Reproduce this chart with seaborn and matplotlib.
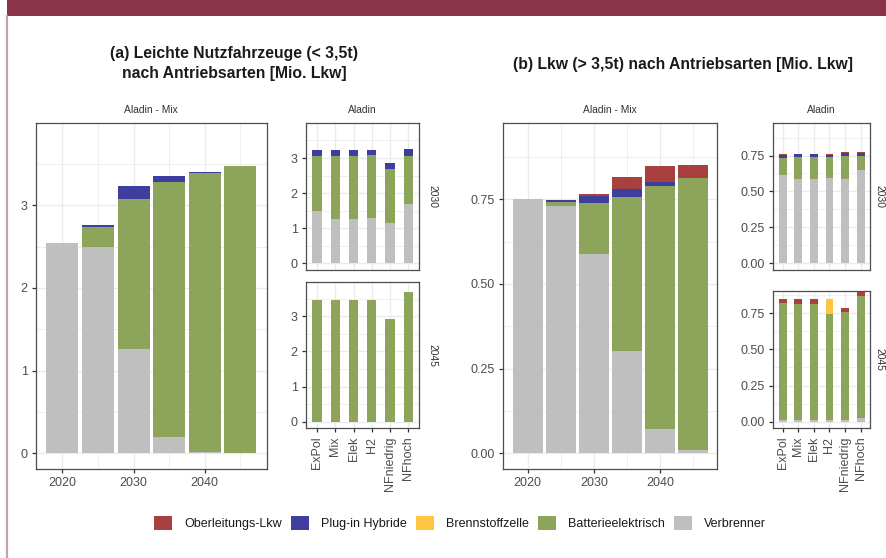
import matplotlib
matplotlib.use("Agg")
import matplotlib.pyplot as plt
from matplotlib.patches import Patch, Rectangle
from matplotlib.lines import Line2D
import numpy as np
import pandas as pd
import seaborn as sns

# ---------------------------------------------------------------- data
years = [2020, 2025, 2030, 2035, 2040, 2045]
scenarios = ["ExPol", "Mix", "Elek", "H2", "NFniedrig", "NFhoch"]
drives = ["Oberleitungs-Lkw", "Plug-in Hybride", "Brennstoffzelle",
          "Batterieelektrisch", "Verbrenner"]

# (a) Leichte Nutzfahrzeuge, Szenario Aladin - Mix, Mio. Fahrzeuge
lnf_verbrenner = [2.54, 2.50, 1.26, 0.20, 0.02, 0.00]
lnf_batterie = [0.00, 0.235, 1.82, 3.08, 3.37, 3.47]
lnf_brennstoff = [0.0, 0.0, 0.0, 0.0, 0.0, 0.0]
lnf_phev = [0.00, 0.025, 0.15, 0.07, 0.01, 0.00]
lnf_oberleitung = [0.0, 0.0, 0.0, 0.0, 0.0, 0.0]

# (a) Szenarienvergleich 2030
lnf30_verbrenner = [1.48, 1.26, 1.26, 1.28, 1.16, 1.70]
lnf30_batterie = [1.59, 1.81, 1.81, 1.81, 1.54, 1.35]
lnf30_brennstoff = [0.0, 0.0, 0.0, 0.0, 0.0, 0.0]
lnf30_phev = [0.17, 0.17, 0.17, 0.15, 0.16, 0.21]
lnf30_oberleitung = [0.0, 0.0, 0.0, 0.0, 0.0, 0.0]

# (a) Szenarienvergleich 2045
lnf45_verbrenner = [0.0, 0.0, 0.0, 0.0, 0.0, 0.0]
lnf45_batterie = [3.47, 3.47, 3.47, 3.46, 2.94, 3.70]
lnf45_brennstoff = [0.0, 0.0, 0.0, 0.015, 0.0, 0.0]
lnf45_phev = [0.0, 0.0, 0.0, 0.0, 0.0, 0.0]
lnf45_oberleitung = [0.0, 0.0, 0.0, 0.0, 0.0, 0.0]

# (b) Lkw, Szenario Aladin - Mix
lkw_verbrenner = [0.750, 0.731, 0.588, 0.302, 0.072, 0.011]
lkw_batterie = [0.000, 0.011, 0.150, 0.455, 0.718, 0.802]
lkw_brennstoff = [0.0, 0.0, 0.0, 0.0, 0.0, 0.0]
lkw_phev = [0.000, 0.005, 0.022, 0.023, 0.011, 0.000]
lkw_oberleitung = [0.000, 0.002, 0.005, 0.036, 0.047, 0.037]

# (b) Szenarienvergleich 2030
lkw30_verbrenner = [0.615, 0.588, 0.588, 0.595, 0.585, 0.650]
lkw30_batterie = [0.120, 0.150, 0.150, 0.145, 0.165, 0.095]
lkw30_brennstoff = [0.0, 0.0, 0.0, 0.002, 0.0, 0.0]
lkw30_phev = [0.022, 0.020, 0.020, 0.015, 0.018, 0.022]
lkw30_oberleitung = [0.005, 0.005, 0.005, 0.003, 0.008, 0.004]

# (b) Szenarienvergleich 2045
lkw45_verbrenner = [0.012, 0.011, 0.011, 0.008, 0.008, 0.022]
lkw45_batterie = [0.808, 0.802, 0.802, 0.738, 0.754, 0.848]
lkw45_brennstoff = [0.0, 0.0, 0.0, 0.104, 0.0, 0.0]
lkw45_phev = [0.0, 0.0, 0.0, 0.0, 0.0, 0.0]
lkw45_oberleitung = [0.028, 0.037, 0.037, 0.0, 0.026, 0.030]

COLORS = {
    "Oberleitungs-Lkw": "#A8403F",
    "Plug-in Hybride": "#3E3E9E",
    "Brennstoffzelle": "#FFC440",
    "Batterieelektrisch": "#8DA55A",
    "Verbrenner": "#BFBFBF",
}
STACK_ORDER = ["Verbrenner", "Batterieelektrisch", "Brennstoffzelle",
               "Plug-in Hybride", "Oberleitungs-Lkw"]

# ---------------------------------------------------------------- style
sns.set_theme(style="white")
plt.rcParams["font.family"] = ["Liberation Sans", "DejaVu Sans"]

W, H = 886, 558
fig = plt.figure(figsize=(W / 100, H / 100), dpi=100)
fig.patch.set_facecolor("white")

GRID = "#EBEBEB"
FRAME = "#4D4D4D"
TICKCOL = "#4D4D4D"


def rect(x0, y0, x1, y1):
    """Axes rectangle from pixel edges (top-left origin)."""
    return [x0 / W, 1 - y1 / H, (x1 - x0) / W, (y1 - y0) / H]


def layers(verb, batt, fc, phev, ol):
    return {"Verbrenner": verb, "Batterieelektrisch": batt,
            "Brennstoffzelle": fc, "Plug-in Hybride": phev,
            "Oberleitungs-Lkw": ol}


def draw_stack(ax, x, lay, width, native):
    cum = np.zeros(len(x))
    tops = []
    for d in STACK_ORDER:
        cum = cum + np.asarray(lay[d], dtype=float)
        tops.append((d, cum.copy(), np.asarray(lay[d], dtype=float)))
    # tallest cumulative first, lower segments painted over it
    for d, top, seg in reversed(tops):
        df = pd.DataFrame({"x": x, "y": top})
        if d != "Verbrenner":
            df.loc[seg <= 0, "y"] = 0.0
        kw = dict(native_scale=True) if native else dict(order=list(x))
        sns.barplot(data=df, x="x", y="y", ax=ax, color=COLORS[d],
                    width=width, errorbar=None, saturation=1,
                    linewidth=0, **kw)


def style(ax, ylim, yticks, yfmt, yminor, xlim, xmajor, xminor):
    ax.set_facecolor("white")
    ax.set_xlim(*xlim)
    ax.set_ylim(*ylim)
    ax.set_yticks(yticks)
    ax.set_yticklabels([yfmt.format(v) for v in yticks])
    ax.set_yticks(yminor, minor=True)
    ax.set_xticks(xmajor)
    ax.set_xticks(xminor, minor=True)
    ax.grid(which="major", color=GRID, lw=1.0)
    ax.grid(which="minor", color=GRID, lw=0.55)
    ax.set_axisbelow(True)
    for s in ax.spines.values():
        s.set_visible(True)
        s.set_color(FRAME)
        s.set_linewidth(0.9)
    ax.tick_params(which="major", length=3, width=0.9, color="#333333",
                   labelsize=9, labelcolor=TICKCOL, pad=3,
                   left=True, bottom=True)
    ax.tick_params(which="minor", length=0)
    ax.set_xlabel("")
    ax.set_ylabel("")


# ---------------------------------------------------------------- panels
YR_LIM = (2016.3, 2048.7)
CAT_LIM = (-0.6, 5.6)

# (a) main
axA = fig.add_axes(rect(36, 123.3, 266.7, 469))
draw_stack(axA, years, layers(lnf_verbrenner, lnf_batterie, lnf_brennstoff,
                              lnf_phev, lnf_oberleitung), 0.9, True)
style(axA, (-0.19, 3.99), [0, 1, 2, 3], "{:g}", [0.5, 1.5, 2.5, 3.5],
      YR_LIM, [2020, 2030, 2040], [2025, 2035, 2045])
axA.set_xticklabels(["2020", "2030", "2040"])

# (a) scenarios 2030 / 2045
axA1 = fig.add_axes(rect(306, 123.3, 419.3, 270))
draw_stack(axA1, scenarios, layers(lnf30_verbrenner, lnf30_batterie,
                                   lnf30_brennstoff, lnf30_phev,
                                   lnf30_oberleitung), 0.5, False)
style(axA1, (-0.19, 3.99), [0, 1, 2, 3], "{:g}", [0.5, 1.5, 2.5, 3.5],
      CAT_LIM, range(6), [])
axA1.tick_params(axis="x", length=0, labelbottom=False)

axA2 = fig.add_axes(rect(306, 281.7, 419.3, 428.3))
draw_stack(axA2, scenarios, layers(lnf45_verbrenner, lnf45_batterie,
                                   lnf45_brennstoff, lnf45_phev,
                                   lnf45_oberleitung), 0.5, False)
style(axA2, (-0.19, 3.99), [0, 1, 2, 3], "{:g}", [0.5, 1.5, 2.5, 3.5],
      CAT_LIM, range(6), [])
axA2.set_xticklabels(scenarios, rotation=90, ha="center", va="top")

# (b) main
axB = fig.add_axes(rect(503.3, 123.3, 717.3, 469))
draw_stack(axB, years, layers(lkw_verbrenner, lkw_batterie, lkw_brennstoff,
                              lkw_phev, lkw_oberleitung), 0.9, True)
style(axB, (-0.046, 0.974), [0, 0.25, 0.5, 0.75], "{:.2f}",
      [0.125, 0.375, 0.625, 0.875], YR_LIM, [2020, 2030, 2040],
      [2025, 2035, 2045])
axB.set_xticklabels(["2020", "2030", "2040"])

# (b) scenarios 2030 / 2045
axB1 = fig.add_axes(rect(773.3, 123.3, 870, 270))
draw_stack(axB1, scenarios, layers(lkw30_verbrenner, lkw30_batterie,
                                   lkw30_brennstoff, lkw30_phev,
                                   lkw30_oberleitung), 0.5, False)
style(axB1, (-0.046, 0.974), [0, 0.25, 0.5, 0.75], "{:.2f}",
      [0.125, 0.375, 0.625, 0.875], CAT_LIM, range(6), [])
axB1.tick_params(axis="x", length=0, labelbottom=False)

axB2 = fig.add_axes(rect(773.3, 291, 870, 428.3))
draw_stack(axB2, scenarios, layers(lkw45_verbrenner, lkw45_batterie,
                                   lkw45_brennstoff, lkw45_phev,
                                   lkw45_oberleitung), 0.5, False)
style(axB2, (-0.046, 0.904), [0, 0.25, 0.5, 0.75], "{:.2f}",
      [0.125, 0.375, 0.625, 0.875], CAT_LIM, range(6), [])
axB2.set_xticklabels(scenarios, rotation=90, ha="center", va="top")

# strips
for ax, t in [(axA, "Aladin - Mix"), (axA1, "Aladin"),
              (axB, "Aladin - Mix"), (axB1, "Aladin")]:
    ax.text(0.5, 1.0 + 13 / (ax.get_position().height * H), t,
            transform=ax.transAxes, ha="center", va="center",
            fontsize=7.4, color="#333333")
for ax, t, off in [(axA1, "2030", 13.5), (axA2, "2045", 13.5),
                   (axB1, "2030", 9.5), (axB2, "2045", 9.5)]:
    ax.text(1.0 + off / (ax.get_position().width * W), 0.5, t,
            transform=ax.transAxes, ha="center", va="center",
            rotation=270, fontsize=7.4, color="#333333")

# titles
fig.text(234 / W, 1 - 63.5 / H,
         "(a) Leichte Nutzfahrzeuge (< 3,5t)\nnach Antriebsarten [Mio. Lkw]",
         ha="center", va="center", fontsize=11.3, fontweight="bold",
         color="#1A1A1A", linespacing=1.35)
fig.text(683 / W, 1 - 65 / H,
         "(b) Lkw (> 3,5t) nach Antriebsarten [Mio. Lkw]",
         ha="center", va="center", fontsize=11.3, fontweight="bold",
         color="#1A1A1A")

# legend
handles = [Patch(facecolor=COLORS[d], edgecolor="none") for d in drives]
fig.legend(handles, drives, loc="center", bbox_to_anchor=(460 / W, 1 - 523 / H),
           ncol=5, frameon=False, fontsize=9, handlelength=1.44,
           handleheight=1.44, handletextpad=0.96, columnspacing=0.72,
           labelcolor="#1A1A1A", borderpad=0, borderaxespad=0)

# header band and side rule
fig.patches.append(Rectangle((7 / W, 1 - 16 / H), (W - 7) / W, 16 / H,
                             transform=fig.transFigure, facecolor="#8B3449",
                             edgecolor="none", zorder=0))
fig.lines.append(Line2D([7 / W, 7 / W], [0, 1 - 16 / H],
                        transform=fig.transFigure, color="#C9A0AA", lw=1.6))

fig.savefig("out.png", dpi=100, facecolor="white")
